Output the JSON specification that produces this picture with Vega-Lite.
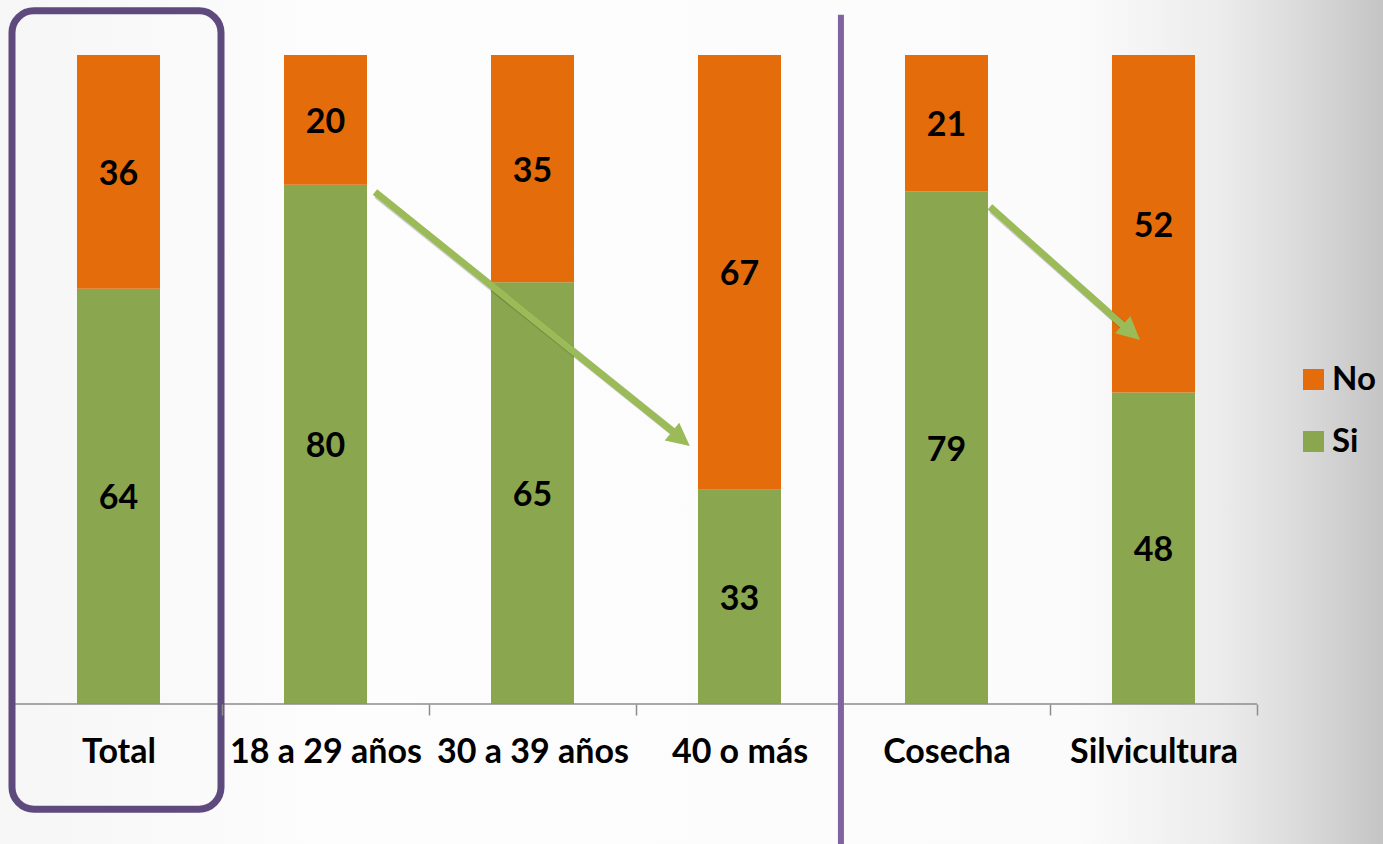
{
  "$schema": "https://vega.github.io/schema/vega-lite/v6.json",
  "autosize": {"type": "none"},
  "padding": {"left": 15, "top": 55, "right": 126, "bottom": 140},
  "width": 1242,
  "height": 649,
  "background": "#ffffff",
  "config": {
    "view": {"stroke": null},
    "font": "Lato",
    "legend": {
      "orient": "none",
      "legendX": 1282,
      "legendY": 308,
      "title": null,
      "symbolType": "square",
      "symbolSize": 441,
      "symbolStrokeWidth": 0,
      "symbolOpacity": 1,
      "labelFont": "Lato",
      "labelFontWeight": "bold",
      "labelFontSize": 33,
      "labelColor": "#000000",
      "labelOffset": 2,
      "rowPadding": 28
    }
  },
  "datasets": {
    "encuesta": [
      {"cat": "Total", "resp": "Si", "v": 64},
      {"cat": "Total", "resp": "No", "v": 36},
      {"cat": "18 a 29 años", "resp": "Si", "v": 80},
      {"cat": "18 a 29 años", "resp": "No", "v": 20},
      {"cat": "30 a 39 años", "resp": "Si", "v": 65},
      {"cat": "30 a 39 años", "resp": "No", "v": 35},
      {"cat": "40 o más", "resp": "Si", "v": 33},
      {"cat": "40 o más", "resp": "No", "v": 67},
      {"cat": "Cosecha", "resp": "Si", "v": 79},
      {"cat": "Cosecha", "resp": "No", "v": 21},
      {"cat": "Silvicultura", "resp": "Si", "v": 48},
      {"cat": "Silvicultura", "resp": "No", "v": 52}
    ],
    "flechas": [
      {"x": 1.239, "y": 78.9, "x2": 2.693, "y2": 41.6},
      {"x": 4.21, "y": 76.6, "x2": 4.867, "y2": 57.9}
    ],
    "uno": [{}]
  },
  "resolve": {"scale": {"x": "independent"}},
  "layer": [
    {
      "description": "backdrop with a grey fade towards the right edge",
      "data": {"name": "uno"},
      "mark": {
        "type": "rect",
        "color": {
          "gradient": "linear", "x1": 0, "y1": 0, "x2": 1, "y2": 0,
          "stops": [
            {"offset": 0, "color": "#f6f6f6"},
            {"offset": 0.25, "color": "#fdfdfd"},
            {"offset": 0.77, "color": "#fbfbfb"},
            {"offset": 0.87, "color": "#ececec"},
            {"offset": 0.93, "color": "#dadada"},
            {"offset": 1, "color": "#bfbfbf"}
          ]
        }
      },
      "encoding": {
        "x": {"datum": -0.6, "type": "quantitative", "scale": {"domain": [-0.5, 5.5], "nice": false, "zero": false}, "axis": null},
        "x2": {"datum": 6.2},
        "y": {"datum": 110, "type": "quantitative", "scale": {"domain": [0, 100], "nice": false}, "axis": null},
        "y2": {"datum": -23}
      }
    },
    {
      "data": {"name": "encuesta"},
      "transform": [
        {"stack": "v", "groupby": ["cat"], "sort": [{"field": "resp", "order": "descending"}], "as": ["y0", "y1"]},
        {"calculate": "(datum.y0 + datum.y1) / 2", "as": "mid"}
      ],
      "encoding": {
        "x": {
          "field": "cat", "type": "nominal", "sort": null,
          "scale": {"paddingInner": 0.599, "paddingOuter": 0.2995},
          "axis": {
            "title": null,
            "domain": false,
            "tickSize": 11,
            "tickWidth": 1.5,
            "tickColor": {"condition": {"test": "datum.value === '40 o más'", "value": "transparent"}, "value": "#8c8c8c"},
            "tickOffset": 103.5,
            "labelOffset": -103.5,
            "labelAngle": 0,
            "labelFont": "Lato",
            "labelFontWeight": "bold",
            "labelFontSize": 34,
            "labelColor": "#000000",
            "labelPadding": 20,
            "labelLimit": 0,
            "labelOverlap": false,
            "labelBound": false,
            "zindex": 1
          }
        }
      },
      "layer": [
        {
          "mark": {"type": "bar", "opacity": 1},
          "encoding": {
            "y": {"field": "y0", "type": "quantitative", "scale": {"domain": [0, 100], "nice": false}, "axis": null},
            "y2": {"field": "y1"},
            "color": {
              "field": "resp", "type": "nominal",
              "scale": {"domain": ["No", "Si"], "range": ["#e46c0a", "#8aa64e"]},
              "legend": {}
            }
          }
        },
        {
          "mark": {"type": "text", "font": "Lato", "fontWeight": "bold", "fontSize": 34, "color": "#000000", "align": "center", "baseline": "middle", "dy": 3},
          "encoding": {
            "y": {"field": "mid", "type": "quantitative", "scale": {"domain": [0, 100], "nice": false}, "axis": null},
            "text": {"field": "v", "type": "quantitative"}
          }
        }
      ]
    },
    {
      "encoding": {
        "x": {"type": "quantitative", "scale": {"domain": [-0.5, 5.5], "nice": false, "zero": false}, "axis": null},
        "y": {"type": "quantitative", "scale": {"domain": [0, 100], "nice": false}, "axis": null}
      },
      "layer": [
        {
          "description": "category baseline",
          "data": {"name": "uno"},
          "mark": {"type": "rule", "color": "#8c8c8c", "strokeWidth": 1.5},
          "encoding": {
            "x": {"datum": -0.5, "type": "quantitative"},
            "x2": {"datum": 5.5},
            "y": {"datum": 0, "type": "quantitative"}
          }
        },
        {
          "description": "highlight frame around the Total column",
          "data": {"name": "uno"},
          "mark": {"type": "rect", "fill": null, "filled": false, "stroke": "#5f4a7e", "strokeWidth": 7, "cornerRadius": 22},
          "encoding": {
            "x": {"datum": -0.5145, "type": "quantitative"},
            "x2": {"datum": 0.4952},
            "y": {"datum": 106.8, "type": "quantitative"},
            "y2": {"datum": -16.2}
          }
        },
        {
          "description": "separator between age groups and work areas",
          "data": {"name": "uno"},
          "mark": {"type": "rule", "color": "#8064a2", "strokeWidth": 6},
          "encoding": {
            "x": {"datum": 3.49, "type": "quantitative"},
            "y": {"datum": 106.2, "type": "quantitative"},
            "y2": {"datum": -23}
          }
        },
        {
          "data": {"name": "flechas"},
          "mark": {"type": "rule", "color": "#000000", "opacity": 0.18, "strokeWidth": 8, "xOffset": 2, "yOffset": 3},
          "encoding": {
            "x": {"field": "x", "type": "quantitative"},
            "x2": {"field": "x2"},
            "y": {"field": "y", "type": "quantitative"},
            "y2": {"field": "y2"}
          }
        },
        {
          "data": {"name": "flechas"},
          "mark": {"type": "rule", "color": "#9bbb59", "strokeWidth": 7},
          "encoding": {
            "x": {"field": "x", "type": "quantitative"},
            "x2": {"field": "x2"},
            "y": {"field": "y", "type": "quantitative"},
            "y2": {"field": "y2"}
          }
        },
        {
          "data": {"values": [{"x": 2.717, "y": 40.86}]},
          "mark": {"type": "point", "shape": "M -1 -1 L 1 0 L -1 1 Z", "filled": true, "size": 529, "color": "#9bbb59", "opacity": 1, "strokeWidth": 0, "angle": 39},
          "encoding": {
            "x": {"field": "x", "type": "quantitative"},
            "y": {"field": "y", "type": "quantitative"}
          }
        },
        {
          "data": {"values": [{"x": 4.893, "y": 57.26}]},
          "mark": {"type": "point", "shape": "M -1 -1 L 1 0 L -1 1 Z", "filled": true, "size": 529, "color": "#9bbb59", "opacity": 1, "strokeWidth": 0, "angle": 41.6},
          "encoding": {
            "x": {"field": "x", "type": "quantitative"},
            "y": {"field": "y", "type": "quantitative"}
          }
        }
      ]
    }
  ]
}
